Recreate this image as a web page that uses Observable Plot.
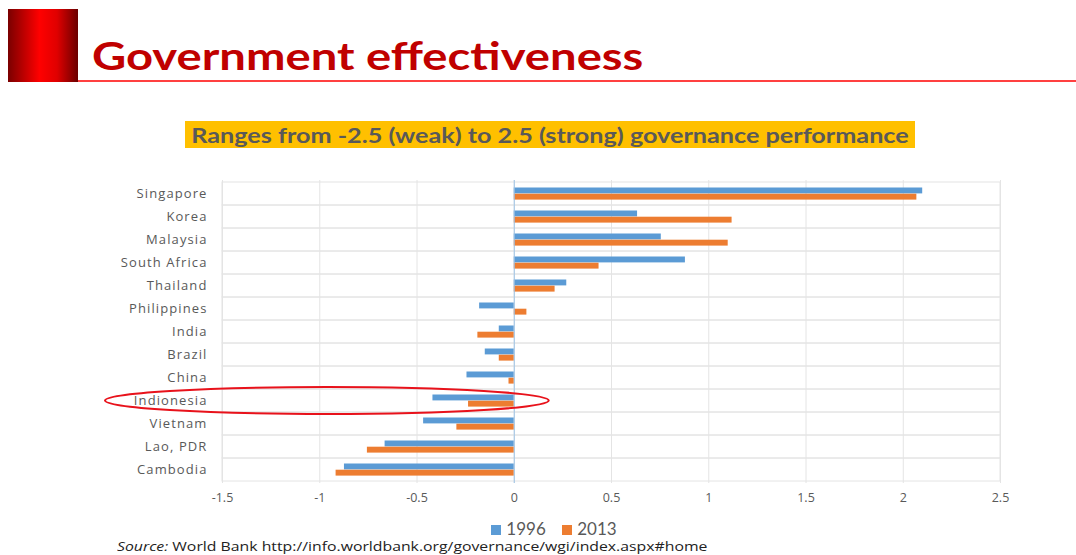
<!DOCTYPE html>
<html>
<head>
<meta charset="utf-8">
<script src="https://cdn.jsdelivr.net/npm/d3@7"></script>
<script src="https://cdn.jsdelivr.net/npm/@observablehq/plot@0.6"></script>
<style>
  html, body { margin: 0; padding: 0; background: #fff; }
  #page { position: relative; width: 1076px; height: 555px; overflow: hidden; font-family: Lato, "Open Sans", sans-serif; }
  #block { position: absolute; left: 8px; top: 9px; width: 70px; height: 73px;
    background: linear-gradient(to right, #7a0000 0%, #ff0000 45%, #e00000 70%, #6a0000 100%); }
  #rule { position: absolute; left: 78px; top: 80px; width: 998px; height: 2px; background: #ff4040; }
  #title { position: absolute; left: 92px; top: 30px; font-size: 39px; font-weight: 700; color: #c00000; white-space: nowrap; line-height: 50px;
    transform: scaleX(1.21); transform-origin: left center; }
  #subtitle { position: absolute; left: 185px; top: 121px; width: 730px; height: 27px; background: #ffc000;
    font-size: 21px; font-weight: 700; color: #595959; line-height: 27px; text-align: center; white-space: nowrap; }
  #subtitle span { display: inline-block; transform: scaleX(1.2); transform-origin: center center; }
  #chart { position: absolute; left: 0; top: 170px; }
  #chart g[aria-label="y-axis tick label"] text { letter-spacing: 1.1px; font-size: 13px; }
  #legend { position: absolute; top: 520px; left: 0; width: 1076px; text-align: center; font-size: 17px; line-height: 18px; color: #595959; padding-left: 32px; box-sizing: border-box; }
  #legend span.sw { display: inline-block; width: 10px; height: 10px; margin-right: 5px; vertical-align: 0px; }
  #legend span.it { margin: 0 6px; }
  #source { position: absolute; left: 117px; top: 539px; font-size: 13.5px; line-height: 15px; color: #222; font-family: "Open Sans", Lato, sans-serif; white-space: nowrap;
    transform: scaleX(1.17); transform-origin: left center; }
  #overlay { position: absolute; left: 0; top: 0; pointer-events: none; }
</style>
</head>
<body>
<div id="page">
  <div id="block"></div>
  <div id="rule"></div>
  <div id="title">Government effectiveness</div>
  <div id="subtitle"><span>Ranges from -2.5 (weak) to 2.5 (strong) governance performance</span></div>
  <div id="chart"></div>
  <div id="legend"></div>
  <div id="source"><i>Source:</i> World Bank http://info.worldbank.org/governance/wgi/index.aspx#home</div>
</div>
<script>
const countries = ["Singapore","Korea","Malaysia","South Africa","Thailand","Philippines","India","Brazil","China","Indionesia","Vietnam","Lao, PDR","Cambodia"];
const v1996 = [2.10, 0.634, 0.756, 0.88, 0.27, -0.178, -0.077, -0.149, -0.243, -0.418, -0.466, -0.664, -0.873];
const v2013 = [2.07, 1.12, 1.10, 0.436, 0.21, 0.065, -0.187, -0.077, -0.027, -0.235, -0.295, -0.755, -0.916];
const xTicks = [-1.5, -1, -0.5, 0, 0.5, 1, 1.5, 2, 2.5];
const years = ["1996", "2013"];
const colors = ["#5b9bd5", "#ed7d31"];
const highlighted = "Indionesia";

const rows = countries.map((c, i) => ({country: c, v1996: v1996[i], v2013: v2013[i]}));
const grid = "#e4e4e4";

const chart = Plot.plot({
  width: 1076,
  height: 345,
  marginTop: 10,
  marginBottom: 32,
  marginLeft: 222,
  marginRight: 76,
  style: {fontFamily: "'Open Sans', Lato, sans-serif", fontSize: "12.5px", color: "#595959", background: "transparent"},
  x: {domain: [xTicks[0], xTicks[xTicks.length - 1]], ticks: xTicks, tickFormat: d => String(d), tickSize: 0, tickPadding: 10, label: null},
  y: {domain: countries, padding: 0, tickSize: 0, tickPadding: 15, label: null},
  marks: [
    Plot.barX(countries, {x1: xTicks[0], x2: xTicks[xTicks.length - 1], y: d => d, fill: "none", stroke: grid}),
    Plot.ruleX(xTicks, {stroke: grid}),
    Plot.barX(rows, {x: "v1996", y: "country", fill: colors[0], insetTop: 5.5, insetBottom: 11.6}),
    Plot.barX(rows, {x: "v2013", y: "country", fill: colors[1], insetTop: 11.7, insetBottom: 5.4}),
    Plot.ruleX([0], {stroke: "#9dc3e6", strokeWidth: 1})
  ]
});
document.getElementById("chart").appendChild(chart);

// legend
const legend = document.getElementById("legend");
legend.innerHTML = years.map((y, i) => `<span class="it"><span class="sw" style="background:${colors[i]}"></span>${y}</span>`).join(" ");

// annotation ellipse around highlighted country
const ys = chart.scale("y");
const xs = chart.scale("x");
const cy = 170 + ys.apply(highlighted) + ys.bandwidth / 2;
const xRight = xs.apply(0.18);
const xLeft = 105;
const ns = "http://www.w3.org/2000/svg";
const ov = document.createElementNS(ns, "svg");
ov.setAttribute("id", "overlay");
ov.setAttribute("width", 1076);
ov.setAttribute("height", 555);
const el = document.createElementNS(ns, "ellipse");
el.setAttribute("cx", (xLeft + xRight) / 2);
el.setAttribute("cy", cy);
el.setAttribute("rx", (xRight - xLeft) / 2);
el.setAttribute("ry", 13.5);
el.setAttribute("fill", "none");
el.setAttribute("stroke", "#e8121b");
el.setAttribute("stroke-width", 2);
ov.appendChild(el);
document.getElementById("page").appendChild(ov);
</script>
</body>
</html>
